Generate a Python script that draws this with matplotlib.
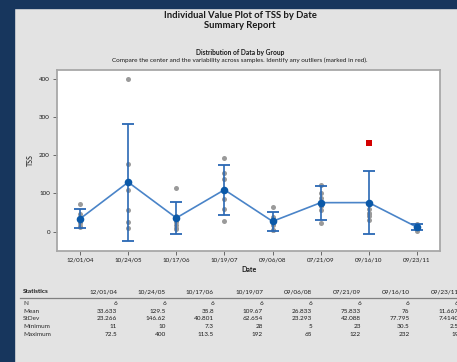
import numpy as np
import matplotlib
matplotlib.use("Agg")
import matplotlib.pyplot as plt

plt.rcParams['font.family'] = ['Lato', 'DejaVu Sans']

# Data
dates = ["12/01/04", "10/24/05", "10/17/06", "10/19/07",
         "09/06/08", "07/21/09", "09/16/10", "09/23/11"]
values = [
    [72.5, 46, 35, 22, 15.3, 11],
    [400, 178, 108, 56, 25, 10],
    [113.5, 42, 25, 17, 10, 7.3],
    [192, 155, 137, 86, 60, 28],
    [65, 38, 30, 18, 5, 5],
    [122, 100, 88, 66, 56, 23],
    [232, 60, 48, 45, 40.5, 30.5],
    [19, 17, 13, 10, 8.5, 2.5],
]
# outliers flagged in red (group index, value)
outliers = [(6, 232)]

stat_names = ["N", "Mean", "StDev", "Minimum", "Maximum"]
stat_n = ["6", "6", "6", "6", "6", "6", "6", "6"]
stat_mean = ["33.633", "129.5", "35.8", "109.67", "26.833", "75.833", "76", "11.667"]
stat_sd = ["23.266", "146.62", "40.801", "62.654", "23.293", "42.088", "77.795", "7.4140"]
stat_min = ["11", "10", "7.3", "28", "5", "23", "30.5", "2.5"]
stat_max = ["72.5", "400", "113.5", "192", "65", "122", "232", "19"]

navy = "#17365d"
bg = "#e3e3e3"
dark_blue = "#0b59a8"
bar_blue = "#2a68b4"
mid_blue = "#4a84c8"
txt = "#1a1a1a"

W, H = 457, 362
fig = plt.figure(figsize=(W / 100, H / 100), dpi=100)
fig.patch.set_facecolor(bg)

def fx(px):
    return px / W

def fy(py):
    return 1 - py / H

# navy border on left and top
fig.patches.append(plt.Rectangle((0, 0), fx(14), 1, transform=fig.transFigure,
                                 color=navy, zorder=0))
fig.patches.append(plt.Rectangle((0, fy(8)), 1, 8 / H, transform=fig.transFigure,
                                 color=navy, zorder=0))

fig.text(fx(240), fy(15), "Individual Value Plot of TSS by Date", ha="center", va="center",
         fontsize=6.8, fontweight="bold", color=txt)
fig.text(fx(240), fy(25), "Summary Report", ha="center", va="center",
         fontsize=6.8, fontweight="bold", color=txt)
fig.text(fx(240), fy(52), "Distribution of Data by Group", ha="center", va="center",
         fontsize=4.8, fontweight="bold", color=txt)
fig.text(fx(240), fy(60), "Compare the center and the variability across samples. Identify any outliers (marked in red).",
         ha="center", va="center", fontsize=4.6, color=txt)

ax = fig.add_axes([fx(57), fy(251), fx(440 - 57), (251 - 70) / H])
ax.set_facecolor("white")
for s in ax.spines.values():
    s.set_color("#a8a8a8")
    s.set_linewidth(1.3)

x = np.arange(len(dates))
means = np.array([float(m) for m in stat_mean])
sds = np.array([float(s) for s in stat_sd])
n = np.array([int(v) for v in stat_n])
half = 2.5706 * sds / np.sqrt(n)

for i, vals in enumerate(values):
    for v in vals:
        if (i, v) in outliers:
            ax.scatter(i, v, marker="s", s=14, color="#d40000", zorder=3, linewidths=0)
        else:
            ax.scatter(i, v, s=13, color="#9a9a9a", zorder=2, linewidths=0)

ax.plot(x, means, color=mid_blue, lw=1.2, zorder=3)
ax.errorbar(x, means, yerr=half, fmt="none", ecolor=bar_blue, elinewidth=1.2,
            capsize=4, capthick=1.3, zorder=4)
ax.scatter(x, means, s=30, color=dark_blue, zorder=5, linewidths=0)

ax.set_xlim(-0.48, 7.48)
ax.set_ylim(-51, 424)
ax.set_xticks(x)
ax.set_xticklabels(dates)
ax.set_yticks([0, 100, 200, 300, 400])
ax.tick_params(labelsize=4.5, length=3, width=0.6, color="#555555", pad=2, labelcolor=txt)
ax.set_xlabel("Date", fontsize=5, fontweight="bold", color=txt, labelpad=2)
ax.set_ylabel("TSS", fontsize=5, color=txt, labelpad=4)

# statistics table
col_right = [117, 166, 214, 263, 312, 361, 409.5, 458.5]
fig.text(fx(23), fy(291.5), "Statistics", ha="left", va="center", fontsize=4.6,
         fontweight="bold", color=txt)
for cx, d in zip(col_right, dates):
    fig.text(fx(cx), fy(291.5), d, ha="right", va="center", fontsize=4.6, color=txt)
fig.add_artist(plt.Line2D([fx(20), 1], [fy(298.3), fy(298.3)], color="#808080", lw=0.9))

rows = [stat_n, stat_mean, stat_sd, stat_min, stat_max]
row_y = [303.3, 311.5, 319, 326.7, 334]
for name, vals, ry in zip(stat_names, rows, row_y):
    fig.text(fx(23), fy(ry), name, ha="left", va="center", fontsize=4.6, color="#2a2a2a")
    for cx, v in zip(col_right, vals):
        fig.text(fx(cx), fy(ry), v, ha="right", va="center", fontsize=4.6, color=txt)

fig.savefig("out.png", dpi=100, facecolor=bg)
